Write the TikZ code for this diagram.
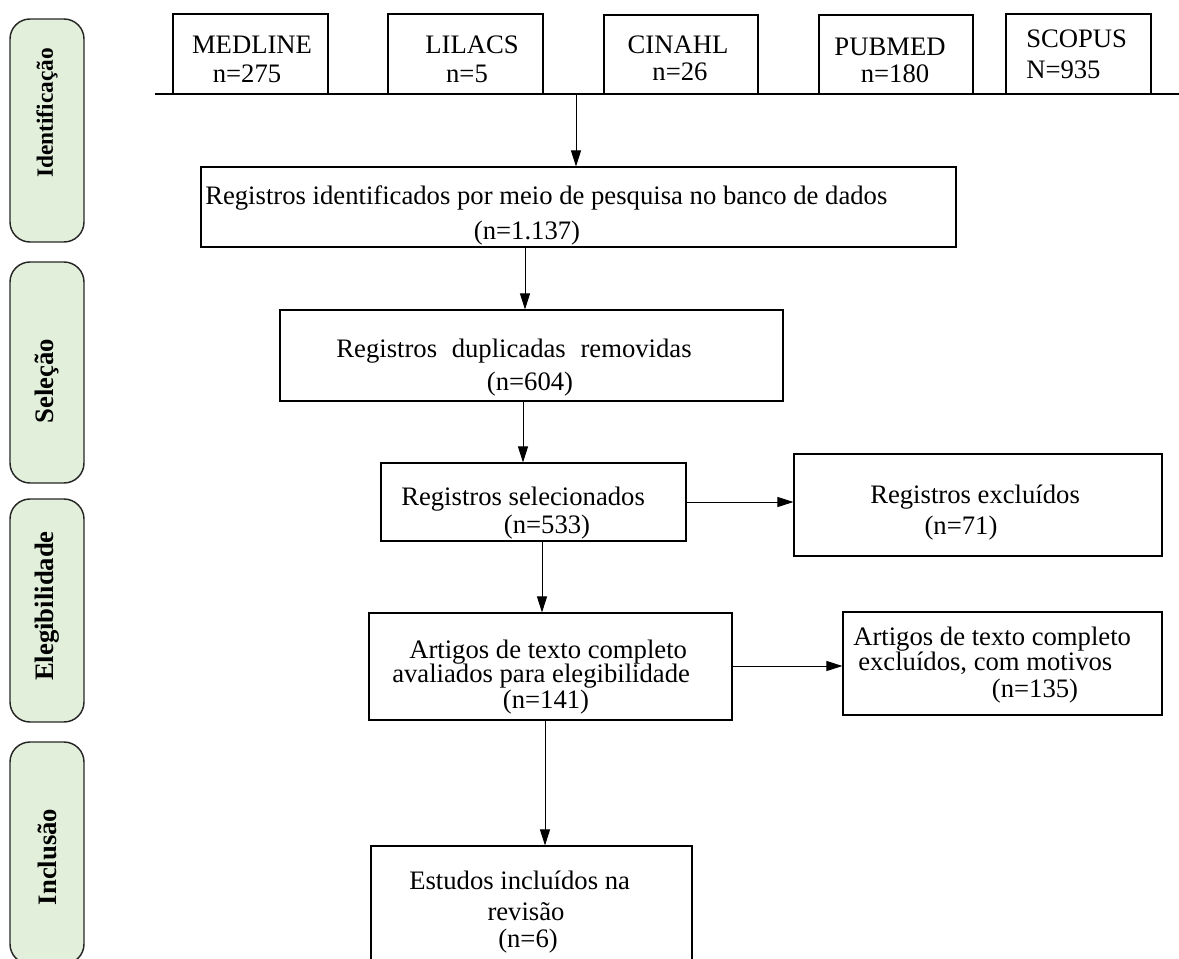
\documentclass[tikz,border=0pt]{standalone}
\usepackage{fontspec}
\setmainfont{Liberation Serif}
\usetikzlibrary{arrows.meta,fit}
\definecolor{phasefill}{RGB}{226,239,218}
\begin{document}
\begin{tikzpicture}[x=0.75pt,y=-0.75pt,
  box/.style={draw=black, line width=0.8pt, inner sep=0pt},
  txt/.style={font=\fontsize{20}{24}\selectfont, inner sep=0pt, anchor=base west},
  ctxt/.style={txt, anchor=base},
  phase/.style={draw=black!85, line width=1.1pt, fill=phasefill, rounded corners=15pt, inner sep=0pt},
  plabel/.style={font=\bfseries\fontsize{20}{24}\selectfont, rotate=90, inner sep=0pt},
  arr/.style={-{Triangle[length=12pt,width=7.5pt]}, line width=0.75pt}]
\useasboundingbox (0,0) rectangle (1179,958);
\clip (0,0) rectangle (1179,958);

% phase boxes
\node[phase, fit={(10,19) (84,242)}] (ph1) {};
\node[phase, fit={(10,262) (84,483)}] (ph2) {};
\node[phase, fit={(10,499) (84,722)}] (ph3) {};
\node[phase, fit={(10,742) (84,964)}] (ph4) {};
\node[plabel, font=\bfseries\fontsize{17.5}{20}\selectfont] (pl1) at (47,113) {Identificação};
\node[plabel] (pl2) at (47,381) {Seleção};
\node[plabel] (pl3) at (47,606) {Elegibilidade};
\node[plabel] (pl4) at (47,857) {Inclusão};

% database boxes
\node[box, fit={(173,14) (328,94)}] (med) {};
\node[box, fit={(388,14) (543,94)}] (lil) {};
\node[box, fit={(604,15) (758,94)}] (cin) {};
\node[box, fit={(819,15) (973,94)}] (pub) {};
\node[box, fit={(1006,14) (1151,94)}] (sco) {};
\node[ctxt] (tmed1) at (252,53) {MEDLINE};
\node[ctxt] (tmed2) at (247,82) {n=275};
\node[ctxt] (tlil1) at (472,53) {LILACS};
\node[ctxt] (tlil2) at (467,82) {n=5};
\node[ctxt] (tcin1) at (678,53) {CINAHL};
\node[ctxt] (tcin2) at (680,80) {n=26};
\node[ctxt] (tpub1) at (890,55) {PUBMED};
\node[ctxt] (tpub2) at (895,82) {n=180};
\node[txt] (tsco1) at (1026,47) {SCOPUS};
\node[txt] (tsco2) at (1026,78) {N=935};

\coordinate (lineL) at (155,94);
\coordinate (lineR) at (1179,94);
\draw[line width=0.8pt] (lineL) -- (lineR);

% flow boxes
\node[box, fit={(201,167) (956,247)}] (b1) {};
\node[box, fit={(280,310) (783,401)}] (b2) {};
\node[box, fit={(381,463) (686,541)}] (b3) {};
\node[box, fit={(794,454) (1162,556)}] (ex1) {};
\node[box, fit={(369,613) (732,720)}] (b4) {};
\node[box, fit={(843,612) (1162,715)}] (ex2) {};
\node[box, fit={(371,846) (692,1000)}] (b5) {};

\node[txt] (tb1a) at (205,204) {Registros identificados por meio de pesquisa no banco de dados};
\node[ctxt] (tb1b) at (527,239) {(n=1.137)};
\node[ctxt] (tb2a) at (514,357) {Registros\hspace{0.55em}duplicadas\hspace{0.55em}removidas};
\node[ctxt] (tb2b) at (530,390) {(n=604)};
\node[txt] (tb3a) at (401,505) {Registros selecionados};
\node[ctxt] (tb3b) at (547,533) {(n=533)};
\node[txt] (te1a) at (870,503) {Registros excluídos};
\node[ctxt] (te1b) at (961,534) {(n=71)};
\node[txt] (tb4a) at (409,658) {Artigos de texto completo};
\node[txt] (tb4b) at (392,682) {avaliados para elegibilidade};
\node[ctxt] (tb4c) at (546,708) {(n=141)};
\node[txt] (te2a) at (853,645) {Artigos de texto completo};
\node[txt] (te2b) at (858,670) {excluídos, com motivos};
\node[ctxt] (te2c) at (1035,697) {(n=135)};
\node[txt] (tb5a) at (409,889) {Estudos incluídos na};
\node[ctxt] (tb5b) at (526,920) {revisão};
\node[ctxt] (tb5c) at (528,947) {(n=6)};

% connectors
\coordinate (x01) at (576,94);
\coordinate (x12) at (525,0);
\coordinate (x23) at (523,0);
\coordinate (x34) at (542,0);
\coordinate (x45) at (545,0);
\coordinate (y3e) at (0,502);
\coordinate (y4e) at (0,666);
\draw[arr] (x01) -- (x01 |- b1.north);
\draw[arr] (x12 |- b1.south) -- (x12 |- b2.north);
\draw[arr] (x23 |- b2.south) -- (x23 |- b3.north);
\draw[arr] (b3.east |- y3e) -- (ex1.west |- y3e);
\draw[arr] (x34 |- b3.south) -- (x34 |- b4.north);
\draw[arr] (b4.east |- y4e) -- (ex2.west |- y4e);
\draw[arr] (x45 |- b4.south) -- (x45 |- b5.north);
\end{tikzpicture}
\end{document}
